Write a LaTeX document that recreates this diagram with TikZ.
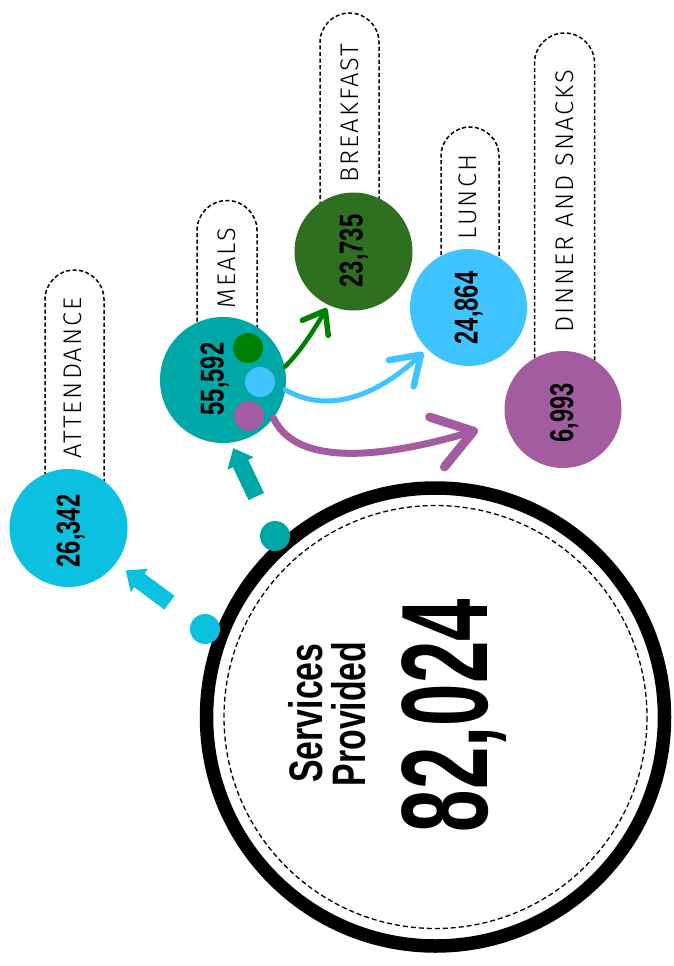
\documentclass[tikz,border=0pt]{standalone}
\usepackage{fontspec}
\setmainfont{Liberation Sans}
\newfontfamily\numfont[FakeStretch=0.72]{Liberation Sans}
\newfontfamily\bignumfont[FakeStretch=0.62]{Liberation Sans}
\newfontfamily\tagfont[LetterSpace=8]{Fira Sans Light}
\usetikzlibrary{arrows.meta}

\definecolor{attcyan}{RGB}{12,192,223}
\definecolor{mealteal}{RGB}{0,167,167}
\definecolor{bfgreen}{RGB}{46,112,31}
\definecolor{arrgreen}{RGB}{0,128,0}
\definecolor{lunchblue}{RGB}{64,196,255}
\definecolor{dinpurple}{RGB}{163,92,159}

\tikzset{
  bubble/.style={circle, inner sep=0pt, minimum size=118pt},
  smalldot/.style={circle, inner sep=0pt, minimum size=30pt},
  numtext/.style={rotate=90, anchor=base, inner sep=0pt,
    font=\numfont\bfseries\fontsize{33pt}{33pt}\selectfont},
  tagtext/.style={rotate=90, anchor=base, inner sep=0pt,
    font=\tagfont\fontsize{25.5pt}{25.5pt}\selectfont},
  pill/.style={line width=1.5pt, dash pattern=on 4pt off 2.5pt},
  blockarrow/.style={line width=17pt, -{Triangle[width=28pt, length=17pt]}},
  flowarrow/.style={line cap=round}
}

\begin{document}
\begin{tikzpicture}[x=1pt, y=-1pt]
  \useasboundingbox (0,0) rectangle (674,966);

  % Draw label pills (arc over the top, y axis points down).
  \draw [pill] (45,528) -- (45,299.5)
        arc [start angle=180, end angle=360, radius=29.5] -- (104,528);
  \draw [pill] (197,380) -- (197,230.5)
        arc [start angle=180, end angle=360, radius=30] -- (257,380);
  \draw [pill] (320,251) -- (320,42.5)
        arc [start angle=180, end angle=360, radius=29.5] -- (379,251);
  \draw [pill] (441,307) -- (441,156)
        arc [start angle=180, end angle=360, radius=29] -- (499,307);
  \draw [pill] (534.5,410) -- (534.5,63)
        arc [start angle=180, end angle=360, radius=30] -- (594.5,410);

  % Draw category circles.
  \node [bubble, fill=attcyan] (att) at (68.5,528) {};
  \node [bubble, fill=mealteal, minimum size=126pt] (meals) at (223,380) {};
  \node [bubble, fill=bfgreen] (brk) at (353.5,251.5) {};
  \node [bubble, fill=lunchblue, minimum size=117pt] (lunch) at (468.5,307.5) {};
  \node [bubble, fill=dinpurple, minimum size=117pt] (din) at (563,409.5) {};

  % Small dots inside meals.
  \node [smalldot, fill=arrgreen] (mgreen) at (248,348) {};
  \node [smalldot, fill=lunchblue] (mblue) at (260,382) {};
  \node [smalldot, fill=dinpurple] (mpurple) at (249,416) {};

  % Labels.
  \node [tagtext] at (81.5,378) {ATTENDANCE};
  \node [tagtext] at (235,268) {MEALS};
  \node [tagtext] at (358.5,113) {BREAKFAST};
  \node [tagtext] at (476.5,197) {LUNCH};
  \node [tagtext] at (573,201) {DINNER AND SNACKS};

  % Numbers.
  \node [numtext] at (79.5,531) {26,342};
  \node [numtext] at (223.5,379) {55,592};
  \node [numtext] at (362.5,251) {23,735};
  \node [numtext] at (477.5,308) {24,864};
  \node [numtext] at (573,413) {6,993};

  % Draw meal arrows.
  \draw [flowarrow, arrgreen, line width=4.5pt, shorten >=3.5pt,
         -{Straight Barb[length=20pt, width=30pt, line width=5.5pt, round]}]
        (meals.12) .. controls (300,352) and (314,330) .. (brk.245);
  \draw [flowarrow, lunchblue, line width=5pt, shorten >=5pt,
         -{Straight Barb[length=27pt, width=36pt, line width=6.5pt, round]}]
        (meals.351) .. controls (338,420) and (392,382) .. (lunch.225);
  \draw [flowarrow, dinpurple, line width=7pt, shorten >=29pt,
         -{Straight Barb[length=38pt, width=52pt, line width=9pt, round]}]
        (meals.323) .. controls (300,475) and (410,450) .. (din.192);

  % Draw total circle.
  \node [circle, draw, line width=13.5pt, inner sep=0pt, minimum size=458pt]
        (total) at (435.5,717) {};
  \draw [line width=1.3pt, dash pattern=on 5pt off 3pt] (total.center) circle (211.5);
  \node [numtext, font=\numfont\bfseries\fontsize{47pt}{47pt}\selectfont]
        at (322,713) {Services};
  \node [numtext, font=\numfont\bfseries\fontsize{47pt}{47pt}\selectfont]
        at (365.5,714) {Provided};
  \node [numtext, font=\bignumfont\bfseries\fontsize{123pt}{123pt}\selectfont]
        at (487,715.5) {82,024};

  % Draw dots and block arrows.
  \node [smalldot, fill=attcyan] (cdot) at (205,629) {};
  \node [smalldot, fill=mealteal] (tdot) at (275,536) {};
  \draw [blockarrow, attcyan, shorten <=29pt, shorten >=12pt] (cdot) -- (att);
  \draw [blockarrow, mealteal, shorten <=28.5pt, shorten >=6pt] (tdot) -- (meals.277);
\end{tikzpicture}
\end{document}
